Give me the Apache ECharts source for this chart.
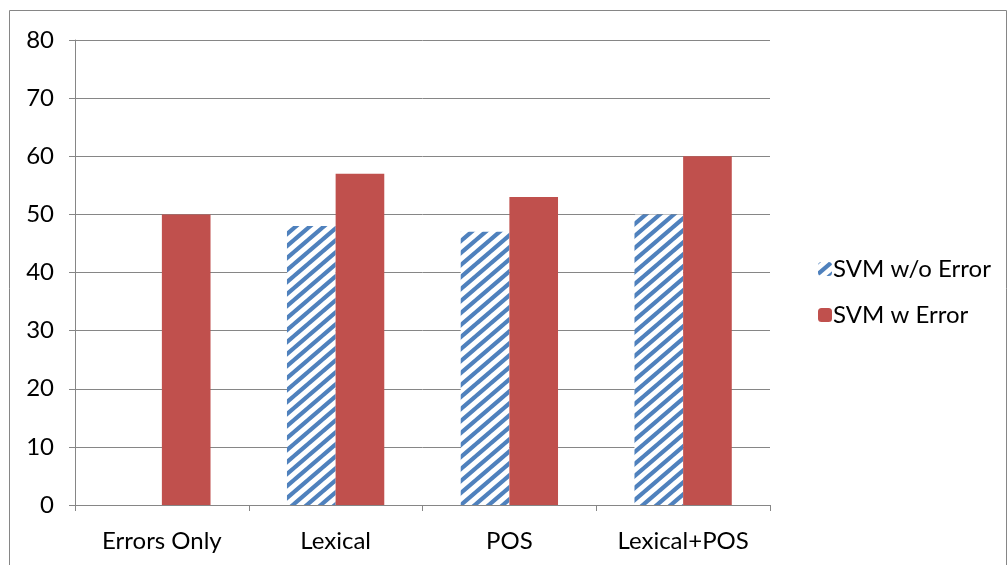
<!DOCTYPE html>
<html>
<head>
<meta charset="utf-8">
<script src="https://cdn.jsdelivr.net/npm/echarts@6/dist/echarts.min.js"></script>
<style>
  html, body { margin: 0; padding: 0; background: #fff; }
  #chart { width: 1008px; height: 565px; }
</style>
</head>
<body>
<div id="chart"></div>
<script>
const categories = ["Errors Only", "Lexical", "POS", "Lexical+POS"];
const svmWithoutError = [null, 48, 47, 50];
const svmWithError = [50, 57, 53, 60];
const yTicks = [0, 10, 20, 30, 40, 50, 60, 70, 80];

const BLUE = "#4f81bd";
const RED = "#c0504d";
const GRID = "#868686";
const FONT = "Lato, 'Open Sans', sans-serif";

// diagonal stripes, rising to the right
function hatch() {
  const w = 14, h = 12;
  const c = document.createElement("canvas");
  c.width = w;
  c.height = h;
  const g = c.getContext("2d");
  g.fillStyle = "#fff";
  g.fillRect(0, 0, w, h);
  g.strokeStyle = BLUE;
  g.lineWidth = 4.2;
  g.beginPath();
  for (const [dx, dy] of [[0, 0], [-w, 0], [w, 0], [0, -h], [0, h]]) {
    g.moveTo(dx, h + dy);
    g.lineTo(w + dx, dy);
  }
  g.stroke();
  return { image: c, repeat: "repeat" };
}

const chart = echarts.init(document.getElementById("chart"), null, { renderer: "canvas" });
chart.setOption({
  backgroundColor: "#fff",
  animation: false,
  textStyle: { fontFamily: FONT },
  graphic: [{
    type: "rect",
    shape: { x: 9.5, y: 10.5, width: 997, height: 560 },
    style: { fill: "none", stroke: GRID, lineWidth: 1 },
    silent: true,
    z: -10
  }],
  grid: { left: 75, top: 40, right: 238, bottom: 60, containLabel: false },
  legend: {
    orient: "vertical",
    left: 813,
    top: 252,
    itemWidth: 14,
    itemHeight: 14,
    itemGap: 22,
    textStyle: { fontFamily: FONT, fontSize: 24, color: "#000", padding: [0, 0, 0, -4] },
    data: ["SVM w/o Error", "SVM w Error"]
  },
  xAxis: {
    type: "category",
    data: categories,
    axisLine: { lineStyle: { color: GRID, width: 1 } },
    axisTick: { show: true, length: 6, alignWithLabel: false, lineStyle: { color: GRID } },
    axisLabel: { color: "#000", fontSize: 24, fontFamily: FONT, margin: 24 }
  },
  yAxis: {
    type: "value",
    min: 0,
    max: 80,
    interval: 10,
    axisLine: { show: true, lineStyle: { color: GRID, width: 1 } },
    axisTick: { show: true, length: 6, lineStyle: { color: GRID } },
    splitLine: { lineStyle: { color: GRID, width: 1 } },
    axisLabel: {
      color: "#000", fontSize: 24, fontFamily: FONT, margin: 21,
      formatter: (v) => (yTicks.includes(v) ? String(v) : "")
    }
  },
  series: [
    {
      name: "SVM w/o Error",
      type: "bar",
      data: svmWithoutError,
      barGap: "0%",
      barCategoryGap: "44%",
      itemStyle: { color: hatch() }
    },
    {
      name: "SVM w Error",
      type: "bar",
      data: svmWithError,
      itemStyle: { color: RED }
    }
  ]
});
</script>
</body>
</html>
